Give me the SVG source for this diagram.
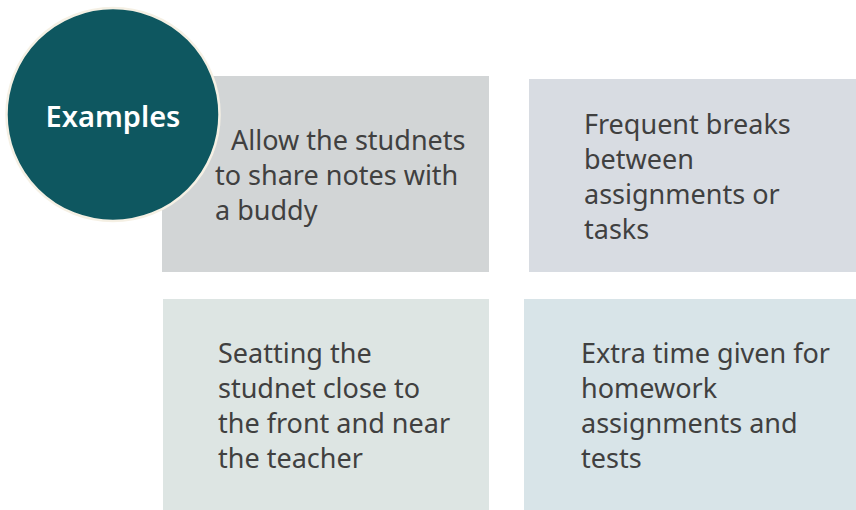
<svg xmlns="http://www.w3.org/2000/svg" width="856" height="510" viewBox="0 0 856 510">
<style>
.t{font-family:"Noto Sans","Open Sans","DejaVu Sans",sans-serif;font-size:27px;fill:#404040}
.h{font-family:"Noto Sans","Open Sans","DejaVu Sans",sans-serif;font-size:29px;font-weight:600;fill:#ffffff;text-anchor:middle}
</style>
<rect width="856" height="510" fill="#ffffff"/>
<g id="box1">
<rect x="162" y="76" width="327" height="196" fill="#d2d5d6"/>
<text class="t" xml:space="preserve"><tspan x="224" y="150"> Allow the studnets</tspan><tspan x="215" y="185">to share notes with</tspan><tspan x="215" y="220">a buddy</tspan></text>
</g>
<g id="box2">
<rect x="529" y="79" width="327" height="193" fill="#d8dce2"/>
<text class="t"><tspan x="584" y="134">Frequent breaks</tspan><tspan x="584" y="169">between</tspan><tspan x="584" y="204">assignments or</tspan><tspan x="584" y="239">tasks</tspan></text>
</g>
<g id="box3">
<rect x="163" y="299" width="326" height="211" fill="#dde5e3"/>
<text class="t"><tspan x="218" y="363">Seatting the</tspan><tspan x="218" y="398">studnet close to</tspan><tspan x="218" y="433">the front and near</tspan><tspan x="218" y="468">the teacher</tspan></text>
</g>
<g id="box4">
<rect x="524" y="299" width="332" height="211" fill="#d8e4e8"/>
<text class="t"><tspan x="581" y="363">Extra time given for</tspan><tspan x="581" y="398">homework</tspan><tspan x="581" y="433">assignments and</tspan><tspan x="581" y="468">tests</tspan></text>
</g>
<g id="examples">
<circle cx="113" cy="114.5" r="106.5" fill="#0e5760" stroke="#f5f0e4" stroke-width="2.5"/>
<text class="h" x="113" y="127">Examples</text>
</g>
<g id="connectors"/>
</svg>
